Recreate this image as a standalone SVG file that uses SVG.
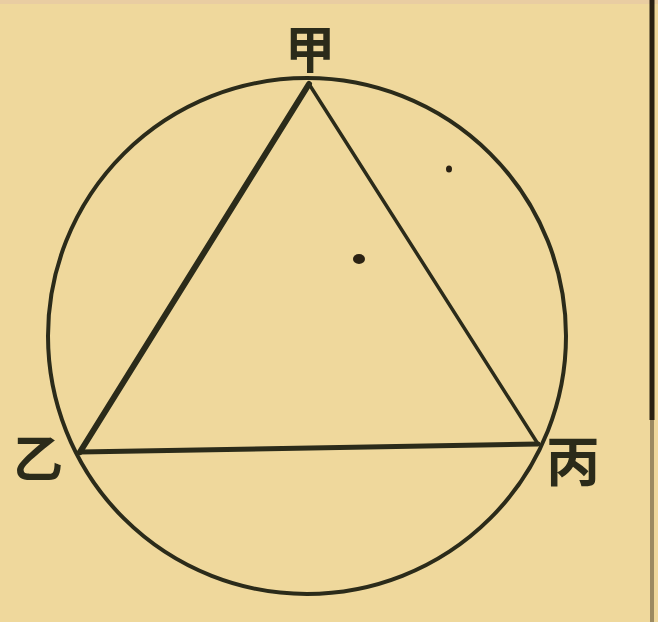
<svg xmlns="http://www.w3.org/2000/svg" width="658" height="622" viewBox="0 0 658 622">
<style>
.ln{fill:none;stroke:#2b2b1a;stroke-linecap:round;stroke-linejoin:round}
.lb{font-family:"Noto Sans CJK SC","Noto Sans CJK JP",sans-serif;font-weight:700;fill:#2b2b1a;text-anchor:middle;dominant-baseline:central}
</style>
<rect x="0" y="0" width="658" height="622" fill="#efd89c"/>
<rect x="0" y="0" width="658" height="4" fill="#e9cda2"/>
<line x1="652" y1="0" x2="652" y2="420" stroke="#2b2213" stroke-width="5"/>
<line x1="652" y1="420" x2="652" y2="622" stroke="#3a2e18" stroke-width="4" opacity="0.45"/>
<g id="circle">
<ellipse class="ln" cx="307" cy="336" rx="259" ry="258" stroke-width="4"/>
</g>
<g id="connectors">
<line class="ln" x1="309" y1="84" x2="80" y2="452" stroke-width="6"/>
<line class="ln" x1="309" y1="84" x2="538" y2="444" stroke-width="3.5"/>
<line class="ln" x1="80" y1="452" x2="538" y2="444" stroke-width="5"/>
</g>
<g id="node-jia"><text class="lb" x="310" y="46" font-size="50">甲</text></g>
<g id="node-yi"><text class="lb" x="38" y="455" font-size="50">乙</text></g>
<g id="node-bing"><text class="lb" x="573" y="458" font-size="54">丙</text></g>
<g id="marks">
<ellipse cx="359" cy="259" rx="6" ry="5" fill="#2b2213"/>
<ellipse cx="449" cy="169" rx="3" ry="3.5" fill="#2b2213"/>
</g>
</svg>
